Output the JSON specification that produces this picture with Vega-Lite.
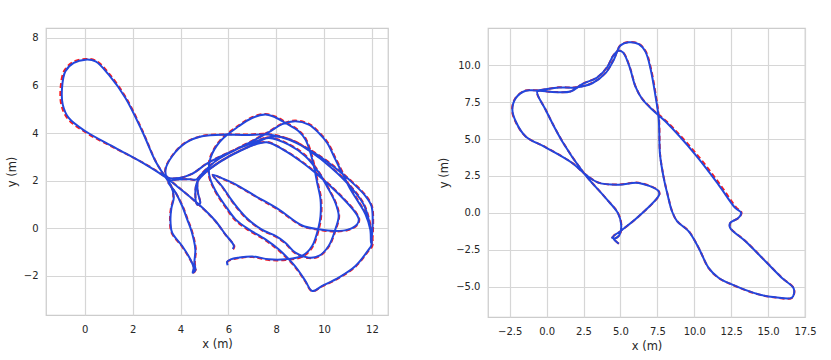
{
 "$schema": "https://vega.github.io/schema/vega-lite/v6.json",
 "padding": {"left": 5, "top": 27, "right": 5, "bottom": 5},
 "background": "white",
 "spacing": 49,
 "datasets": {
  "left": [
   {"t":1,"x":6.18,"y":-0.86,"gx":6.2,"gy":-0.88},
   {"t":2,"x":6.23,"y":-0.74,"gx":6.25,"gy":-0.75},
   {"t":3,"x":5.85,"y":-0.22,"gx":5.86,"gy":-0.24},
   {"t":4,"x":5.46,"y":0.31,"gx":5.47,"gy":0.29},
   {"t":5,"x":4.76,"y":1.01,"gx":4.77,"gy":0.99},
   {"t":6,"x":3.93,"y":1.71,"gx":3.93,"gy":1.72},
   {"t":7,"x":3.37,"y":2.15,"gx":3.36,"gy":2.17},
   {"t":8,"x":2.53,"y":2.69,"gx":2.52,"gy":2.71},
   {"t":9,"x":1.28,"y":3.38,"gx":1.26,"gy":3.37},
   {"t":10,"x":0.03,"y":4.08,"gx":0.01,"gy":4.05},
   {"t":11,"x":-0.67,"y":4.64,"gx":-0.72,"gy":4.62},
   {"t":12,"x":-0.92,"y":5.2,"gx":-0.98,"gy":5.2},
   {"t":13,"x":-0.95,"y":5.9,"gx":-1.01,"gy":5.9},
   {"t":14,"x":-0.81,"y":6.6,"gx":-0.86,"gy":6.62},
   {"t":15,"x":-0.46,"y":6.95,"gx":-0.49,"gy":6.99},
   {"t":16,"x":0.03,"y":7.09,"gx":0.04,"gy":7.12},
   {"t":17,"x":0.45,"y":7.02,"gx":0.48,"gy":7.04},
   {"t":18,"x":1.0,"y":6.46,"gx":1.04,"gy":6.47},
   {"t":19,"x":1.7,"y":5.48,"gx":1.73,"gy":5.48},
   {"t":20,"x":2.4,"y":4.08,"gx":2.42,"gy":4.08},
   {"t":21,"x":2.95,"y":2.83,"gx":2.96,"gy":2.83},
   {"t":22,"x":3.3,"y":2.25,"gx":3.31,"gy":2.25},
   {"t":23,"x":3.6,"y":1.8,"gx":3.61,"gy":1.8},
   {"t":24,"x":3.72,"y":1.3,"gx":3.7,"gy":1.3},
   {"t":25,"x":3.62,"y":0.85,"gx":3.6,"gy":0.85},
   {"t":26,"x":3.58,"y":0.38,"gx":3.56,"gy":0.38},
   {"t":27,"x":3.65,"y":-0.18,"gx":3.63,"gy":-0.19},
   {"t":28,"x":4.07,"y":-0.74,"gx":4.06,"gy":-0.76},
   {"t":29,"x":4.41,"y":-1.3,"gx":4.41,"gy":-1.32},
   {"t":30,"x":4.55,"y":-1.65,"gx":4.56,"gy":-1.66},
   {"t":31,"x":4.51,"y":-1.86,"gx":4.52,"gy":-1.87},
   {"t":32,"x":4.62,"y":-1.76,"gx":4.63,"gy":-1.76},
   {"t":33,"x":4.58,"y":-1.45,"gx":4.6,"gy":-1.45},
   {"t":34,"x":4.62,"y":-0.88,"gx":4.64,"gy":-0.88},
   {"t":35,"x":4.48,"y":-0.18,"gx":4.5,"gy":-0.18},
   {"t":36,"x":4.28,"y":0.38,"gx":4.3,"gy":0.38},
   {"t":37,"x":4.07,"y":0.94,"gx":4.09,"gy":0.94},
   {"t":38,"x":3.8,"y":1.5,"gx":3.8,"gy":1.5},
   {"t":39,"x":3.5,"y":1.95,"gx":3.5,"gy":1.95},
   {"t":40,"x":3.85,"y":2.05,"gx":3.85,"gy":2.05},
   {"t":41,"x":4.4,"y":2.06,"gx":4.4,"gy":2.06},
   {"t":42,"x":4.65,"y":2.05,"gx":4.65,"gy":2.05},
   {"t":43,"x":4.95,"y":2.35,"gx":4.95,"gy":2.37},
   {"t":44,"x":5.5,"y":2.85,"gx":5.5,"gy":2.87},
   {"t":45,"x":6.3,"y":3.3,"gx":6.3,"gy":3.32},
   {"t":46,"x":7.1,"y":3.72,"gx":7.1,"gy":3.74},
   {"t":47,"x":7.75,"y":4.08,"gx":7.75,"gy":4.1},
   {"t":48,"x":8.25,"y":4.38,"gx":8.25,"gy":4.4},
   {"t":49,"x":8.8,"y":4.5,"gx":8.8,"gy":4.53},
   {"t":50,"x":9.36,"y":4.36,"gx":9.38,"gy":4.38},
   {"t":51,"x":9.78,"y":4.01,"gx":9.8,"gy":4.03},
   {"t":52,"x":10.13,"y":3.59,"gx":10.16,"gy":3.6},
   {"t":53,"x":10.47,"y":2.9,"gx":10.5,"gy":2.91},
   {"t":54,"x":10.75,"y":2.34,"gx":10.78,"gy":2.35},
   {"t":55,"x":11.1,"y":1.64,"gx":11.13,"gy":1.65},
   {"t":56,"x":11.45,"y":1.08,"gx":11.48,"gy":1.08},
   {"t":57,"x":11.73,"y":0.59,"gx":11.76,"gy":0.59},
   {"t":58,"x":11.93,"y":-0.05,"gx":11.96,"gy":-0.05},
   {"t":59,"x":11.96,"y":-0.62,"gx":12.0,"gy":-0.66},
   {"t":60,"x":12.03,"y":0.25,"gx":12.05,"gy":0.25},
   {"t":61,"x":11.98,"y":0.94,"gx":12.0,"gy":0.94},
   {"t":62,"x":11.73,"y":1.36,"gx":11.75,"gy":1.37},
   {"t":63,"x":11.03,"y":2.06,"gx":11.05,"gy":2.07},
   {"t":64,"x":10.19,"y":2.76,"gx":10.21,"gy":2.77},
   {"t":65,"x":9.36,"y":3.31,"gx":9.37,"gy":3.33},
   {"t":66,"x":8.52,"y":3.73,"gx":8.53,"gy":3.75},
   {"t":67,"x":7.69,"y":3.94,"gx":7.69,"gy":3.96},
   {"t":68,"x":6.71,"y":3.92,"gx":6.71,"gy":3.94},
   {"t":69,"x":5.88,"y":3.94,"gx":5.88,"gy":3.95},
   {"t":70,"x":4.9,"y":3.87,"gx":4.9,"gy":3.88},
   {"t":71,"x":4.21,"y":3.59,"gx":4.2,"gy":3.6},
   {"t":72,"x":3.65,"y":3.03,"gx":3.64,"gy":3.04},
   {"t":73,"x":3.37,"y":2.45,"gx":3.36,"gy":2.45},
   {"t":74,"x":3.45,"y":2.15,"gx":3.45,"gy":2.15},
   {"t":75,"x":3.95,"y":2.12,"gx":3.95,"gy":2.12},
   {"t":76,"x":4.5,"y":2.3,"gx":4.5,"gy":2.3},
   {"t":77,"x":5.1,"y":2.72,"gx":5.1,"gy":2.73},
   {"t":78,"x":5.88,"y":3.12,"gx":5.88,"gy":3.13},
   {"t":79,"x":6.99,"y":3.58,"gx":6.99,"gy":3.6},
   {"t":80,"x":7.69,"y":3.8,"gx":7.69,"gy":3.82},
   {"t":81,"x":8.52,"y":3.52,"gx":8.53,"gy":3.54},
   {"t":82,"x":9.22,"y":3.03,"gx":9.24,"gy":3.05},
   {"t":83,"x":9.78,"y":2.34,"gx":9.8,"gy":2.35},
   {"t":84,"x":10.19,"y":1.64,"gx":10.21,"gy":1.64},
   {"t":85,"x":10.47,"y":1.08,"gx":10.49,"gy":1.08},
   {"t":86,"x":10.61,"y":0.52,"gx":10.63,"gy":0.52},
   {"t":87,"x":10.47,"y":-0.04,"gx":10.49,"gy":-0.05},
   {"t":88,"x":10.19,"y":-0.74,"gx":10.2,"gy":-0.76},
   {"t":89,"x":9.78,"y":-1.16,"gx":9.78,"gy":-1.18},
   {"t":90,"x":9.36,"y":-1.23,"gx":9.36,"gy":-1.25},
   {"t":91,"x":8.8,"y":-1.02,"gx":8.79,"gy":-1.04},
   {"t":92,"x":8.38,"y":-0.6,"gx":8.37,"gy":-0.62},
   {"t":93,"x":7.97,"y":-0.32,"gx":7.96,"gy":-0.34},
   {"t":94,"x":7.4,"y":-0.05,"gx":7.39,"gy":-0.07},
   {"t":95,"x":6.75,"y":0.45,"gx":6.74,"gy":0.43},
   {"t":96,"x":6.2,"y":1.1,"gx":6.19,"gy":1.08},
   {"t":97,"x":5.75,"y":1.75,"gx":5.74,"gy":1.74},
   {"t":98,"x":5.35,"y":2.25,"gx":5.34,"gy":2.25},
   {"t":99,"x":5.8,"y":2.08,"gx":5.8,"gy":2.06},
   {"t":100,"x":6.3,"y":1.85,"gx":6.3,"gy":1.83},
   {"t":101,"x":7.13,"y":1.36,"gx":7.13,"gy":1.34},
   {"t":102,"x":8.1,"y":0.8,"gx":8.1,"gy":0.77},
   {"t":103,"x":9.08,"y":0.12,"gx":9.08,"gy":0.1},
   {"t":104,"x":9.78,"y":-0.04,"gx":9.78,"gy":-0.06},
   {"t":105,"x":10.47,"y":-0.11,"gx":10.47,"gy":-0.13},
   {"t":106,"x":11.03,"y":-0.04,"gx":11.04,"gy":-0.06},
   {"t":107,"x":11.38,"y":0.17,"gx":11.4,"gy":0.16},
   {"t":108,"x":11.45,"y":0.38,"gx":11.47,"gy":0.38},
   {"t":109,"x":11.31,"y":0.66,"gx":11.33,"gy":0.67},
   {"t":110,"x":10.65,"y":1.4,"gx":10.67,"gy":1.41},
   {"t":111,"x":9.85,"y":2.15,"gx":9.87,"gy":2.16},
   {"t":112,"x":9.05,"y":2.8,"gx":9.07,"gy":2.81},
   {"t":113,"x":8.3,"y":3.3,"gx":8.31,"gy":3.31},
   {"t":114,"x":7.6,"y":3.62,"gx":7.6,"gy":3.63},
   {"t":115,"x":6.8,"y":3.4,"gx":6.8,"gy":3.41},
   {"t":116,"x":6.0,"y":3.0,"gx":6.0,"gy":3.01},
   {"t":117,"x":5.3,"y":2.55,"gx":5.3,"gy":2.56},
   {"t":118,"x":4.75,"y":2.1,"gx":4.75,"gy":2.1},
   {"t":119,"x":4.72,"y":1.55,"gx":4.72,"gy":1.55},
   {"t":120,"x":4.82,"y":1.05,"gx":4.82,"gy":1.05},
   {"t":121,"x":4.7,"y":1.0,"gx":4.7,"gy":1.0},
   {"t":122,"x":4.62,"y":1.4,"gx":4.62,"gy":1.4},
   {"t":123,"x":4.7,"y":1.95,"gx":4.7,"gy":1.95},
   {"t":124,"x":5.1,"y":2.4,"gx":5.1,"gy":2.41},
   {"t":125,"x":5.9,"y":2.95,"gx":5.9,"gy":2.96},
   {"t":126,"x":6.9,"y":3.45,"gx":6.9,"gy":3.46},
   {"t":127,"x":7.8,"y":3.85,"gx":7.8,"gy":3.86},
   {"t":128,"x":8.6,"y":3.72,"gx":8.61,"gy":3.73},
   {"t":129,"x":9.4,"y":3.25,"gx":9.42,"gy":3.26},
   {"t":130,"x":10.3,"y":2.55,"gx":10.32,"gy":2.56},
   {"t":131,"x":11.1,"y":1.75,"gx":11.12,"gy":1.76},
   {"t":132,"x":11.7,"y":0.9,"gx":11.72,"gy":0.9},
   {"t":133,"x":11.98,"y":-0.7,"gx":12.02,"gy":-0.72},
   {"t":134,"x":11.87,"y":-0.88,"gx":11.89,"gy":-0.9},
   {"t":135,"x":11.31,"y":-1.58,"gx":11.32,"gy":-1.6},
   {"t":136,"x":10.61,"y":-2.07,"gx":10.61,"gy":-2.09},
   {"t":137,"x":9.92,"y":-2.42,"gx":9.92,"gy":-2.44},
   {"t":138,"x":9.5,"y":-2.63,"gx":9.5,"gy":-2.64},
   {"t":139,"x":9.22,"y":-2.21,"gx":9.2,"gy":-2.21},
   {"t":140,"x":8.94,"y":-1.79,"gx":8.92,"gy":-1.8},
   {"t":141,"x":8.66,"y":-1.44,"gx":8.64,"gy":-1.46},
   {"t":142,"x":8.1,"y":-0.88,"gx":8.08,"gy":-0.91},
   {"t":143,"x":7.55,"y":-0.46,"gx":7.53,"gy":-0.49},
   {"t":144,"x":6.85,"y":-0.04,"gx":6.83,"gy":-0.07},
   {"t":145,"x":6.3,"y":0.38,"gx":6.28,"gy":0.35},
   {"t":146,"x":5.88,"y":0.94,"gx":5.86,"gy":0.92},
   {"t":147,"x":5.45,"y":1.6,"gx":5.43,"gy":1.59},
   {"t":148,"x":5.2,"y":2.25,"gx":5.18,"gy":2.25},
   {"t":149,"x":5.25,"y":2.95,"gx":5.23,"gy":2.96},
   {"t":150,"x":5.65,"y":3.65,"gx":5.63,"gy":3.67},
   {"t":151,"x":6.43,"y":4.29,"gx":6.42,"gy":4.32},
   {"t":152,"x":6.99,"y":4.64,"gx":6.99,"gy":4.67},
   {"t":153,"x":7.55,"y":4.78,"gx":7.55,"gy":4.81},
   {"t":154,"x":7.97,"y":4.66,"gx":7.98,"gy":4.69},
   {"t":155,"x":8.38,"y":4.43,"gx":8.4,"gy":4.46},
   {"t":156,"x":8.94,"y":4.08,"gx":8.96,"gy":4.1},
   {"t":157,"x":9.22,"y":3.73,"gx":9.25,"gy":3.74},
   {"t":158,"x":9.43,"y":3.17,"gx":9.46,"gy":3.17},
   {"t":159,"x":9.57,"y":2.62,"gx":9.6,"gy":2.62},
   {"t":160,"x":9.71,"y":1.92,"gx":9.74,"gy":1.92},
   {"t":161,"x":9.85,"y":1.22,"gx":9.88,"gy":1.22},
   {"t":162,"x":9.85,"y":0.52,"gx":9.88,"gy":0.52},
   {"t":163,"x":9.78,"y":0.1,"gx":9.81,"gy":0.09},
   {"t":164,"x":9.5,"y":-0.74,"gx":9.53,"gy":-0.76},
   {"t":165,"x":9.08,"y":-1.16,"gx":9.09,"gy":-1.19},
   {"t":166,"x":8.38,"y":-1.3,"gx":8.38,"gy":-1.33},
   {"t":167,"x":7.69,"y":-1.3,"gx":7.69,"gy":-1.33},
   {"t":168,"x":7.0,"y":-1.18,"gx":7.0,"gy":-1.2},
   {"t":169,"x":6.43,"y":-1.23,"gx":6.43,"gy":-1.25},
   {"t":170,"x":6.1,"y":-1.3,"gx":6.1,"gy":-1.32},
   {"t":171,"x":5.95,"y":-1.4,"gx":5.95,"gy":-1.42},
   {"t":172,"x":5.97,"y":-1.55,"gx":5.98,"gy":-1.57}
  ],
  "right": [
   {"t":1,"x":4.89,"y":-2.09,"gx":4.89,"gy":-2.09},
   {"t":2,"x":4.5,"y":-1.64,"gx":4.5,"gy":-1.64},
   {"t":3,"x":5.0,"y":-1.24,"gx":5.0,"gy":-1.24},
   {"t":4,"x":6.24,"y":-0.23,"gx":6.25,"gy":-0.23},
   {"t":5,"x":7.63,"y":1.25,"gx":7.64,"gy":1.25},
   {"t":6,"x":7.55,"y":1.51,"gx":7.56,"gy":1.52},
   {"t":7,"x":6.24,"y":2.03,"gx":6.24,"gy":2.04},
   {"t":8,"x":4.89,"y":1.91,"gx":4.89,"gy":1.92},
   {"t":9,"x":3.54,"y":2.03,"gx":3.54,"gy":2.04},
   {"t":10,"x":2.64,"y":2.59,"gx":2.64,"gy":2.6},
   {"t":11,"x":1.73,"y":3.38,"gx":1.73,"gy":3.39},
   {"t":12,"x":-0.07,"y":4.44,"gx":-0.08,"gy":4.45},
   {"t":13,"x":-1.42,"y":5.18,"gx":-1.43,"gy":5.19},
   {"t":14,"x":-2.09,"y":6.19,"gx":-2.11,"gy":6.19},
   {"t":15,"x":-2.32,"y":6.98,"gx":-2.34,"gy":6.98},
   {"t":16,"x":-2.09,"y":7.77,"gx":-2.11,"gy":7.78},
   {"t":17,"x":-1.42,"y":8.27,"gx":-1.42,"gy":8.29},
   {"t":18,"x":-0.63,"y":8.29,"gx":-0.63,"gy":8.3},
   {"t":19,"x":0.83,"y":8.49,"gx":0.83,"gy":8.5},
   {"t":20,"x":1.96,"y":8.49,"gx":1.96,"gy":8.5},
   {"t":21,"x":3.09,"y":8.78,"gx":3.09,"gy":8.8},
   {"t":22,"x":3.99,"y":9.46,"gx":3.98,"gy":9.48},
   {"t":23,"x":4.55,"y":10.36,"gx":4.54,"gy":10.38},
   {"t":24,"x":5.0,"y":11.33,"gx":5.0,"gy":11.35},
   {"t":25,"x":5.56,"y":11.55,"gx":5.57,"gy":11.57},
   {"t":26,"x":6.24,"y":11.42,"gx":6.26,"gy":11.44},
   {"t":27,"x":6.69,"y":10.92,"gx":6.72,"gy":10.93},
   {"t":28,"x":7.03,"y":9.8,"gx":7.06,"gy":9.8},
   {"t":29,"x":7.36,"y":8.0,"gx":7.39,"gy":8.0},
   {"t":30,"x":7.59,"y":6.42,"gx":7.61,"gy":6.42},
   {"t":31,"x":7.68,"y":3.94,"gx":7.69,"gy":3.94},
   {"t":32,"x":7.93,"y":2.37,"gx":7.94,"gy":2.37},
   {"t":33,"x":8.2,"y":1.2,"gx":8.21,"gy":1.2},
   {"t":34,"x":8.49,"y":0.11,"gx":8.5,"gy":0.11},
   {"t":35,"x":8.83,"y":-0.56,"gx":8.84,"gy":-0.56},
   {"t":36,"x":9.61,"y":-1.24,"gx":9.63,"gy":-1.24},
   {"t":37,"x":10.29,"y":-2.36,"gx":10.3,"gy":-2.37},
   {"t":38,"x":10.97,"y":-3.72,"gx":10.97,"gy":-3.73},
   {"t":39,"x":11.64,"y":-4.39,"gx":11.64,"gy":-4.4},
   {"t":40,"x":12.54,"y":-4.84,"gx":12.54,"gy":-4.85},
   {"t":41,"x":14.34,"y":-5.51,"gx":14.34,"gy":-5.52},
   {"t":42,"x":15.5,"y":-5.72,"gx":15.5,"gy":-5.73},
   {"t":43,"x":16.59,"y":-5.76,"gx":16.6,"gy":-5.77},
   {"t":44,"x":16.76,"y":-5.45,"gx":16.77,"gy":-5.45},
   {"t":45,"x":16.71,"y":-5.07,"gx":16.72,"gy":-5.07},
   {"t":46,"x":15.92,"y":-4.39,"gx":15.93,"gy":-4.38},
   {"t":47,"x":14.8,"y":-3.26,"gx":14.81,"gy":-3.25},
   {"t":48,"x":13.45,"y":-1.91,"gx":13.46,"gy":-1.9},
   {"t":49,"x":12.43,"y":-1.01,"gx":12.44,"gy":-1.0},
   {"t":50,"x":12.43,"y":-0.68,"gx":12.45,"gy":-0.67},
   {"t":51,"x":12.99,"y":-0.34,"gx":13.01,"gy":-0.33},
   {"t":52,"x":13.18,"y":0.0,"gx":13.2,"gy":0.02},
   {"t":53,"x":12.77,"y":0.34,"gx":12.83,"gy":0.38},
   {"t":54,"x":11.64,"y":1.92,"gx":11.72,"gy":1.96},
   {"t":55,"x":10.07,"y":3.95,"gx":10.15,"gy":3.99},
   {"t":56,"x":8.04,"y":6.2,"gx":8.09,"gy":6.23},
   {"t":57,"x":7.2,"y":6.95,"gx":7.22,"gy":6.97},
   {"t":58,"x":6.46,"y":7.73,"gx":6.47,"gy":7.74},
   {"t":59,"x":6.01,"y":8.56,"gx":6.02,"gy":8.57},
   {"t":60,"x":5.61,"y":9.91,"gx":5.62,"gy":9.92},
   {"t":61,"x":5.16,"y":10.88,"gx":5.17,"gy":10.89},
   {"t":62,"x":4.84,"y":10.97,"gx":4.84,"gy":10.98},
   {"t":63,"x":4.5,"y":10.63,"gx":4.5,"gy":10.64},
   {"t":64,"x":4.1,"y":9.86,"gx":4.1,"gy":9.87},
   {"t":65,"x":3.42,"y":9.17,"gx":3.42,"gy":9.18},
   {"t":66,"x":2.41,"y":8.72,"gx":2.41,"gy":8.73},
   {"t":67,"x":1.62,"y":8.22,"gx":1.62,"gy":8.23},
   {"t":68,"x":0.38,"y":8.18,"gx":0.38,"gy":8.19},
   {"t":69,"x":-0.63,"y":8.22,"gx":-0.63,"gy":8.23},
   {"t":70,"x":-0.07,"y":6.98,"gx":-0.06,"gy":6.98},
   {"t":71,"x":1.06,"y":4.84,"gx":1.07,"gy":4.84},
   {"t":72,"x":2.52,"y":2.7,"gx":2.53,"gy":2.7},
   {"t":73,"x":3.99,"y":1.01,"gx":4.0,"gy":1.01},
   {"t":74,"x":4.82,"y":0.0,"gx":4.83,"gy":0.0},
   {"t":75,"x":5.05,"y":-0.79,"gx":5.06,"gy":-0.79},
   {"t":76,"x":4.95,"y":-1.46,"gx":4.96,"gy":-1.46},
   {"t":77,"x":4.62,"y":-1.73,"gx":4.62,"gy":-1.73},
   {"t":78,"x":4.39,"y":-1.64,"gx":4.39,"gy":-1.64}
  ]
 },
 "hconcat": [
  {
   "width": 342,
   "height": 287,
   "data": {"name": "left"},
   "layer": [
    {
     "mark": {"type": "line", "interpolate": "catmull-rom", "color": "#ff1a1a", "strokeWidth": 2, "strokeDash": [5, 3]},
     "encoding": {
      "x": {"field": "gx", "type": "quantitative", "scale": {"domain": [-1.62, 12.67], "nice": false, "zero": false}, "axis": {"title": "x (m)", "values": [0, 2, 4, 6, 8, 10, 12]}},
      "y": {"field": "gy", "type": "quantitative", "scale": {"domain": [-3.64, 8.42], "nice": false, "zero": false}, "axis": {"title": "y (m)", "values": [-2, 0, 2, 4, 6, 8]}},
      "order": {"field": "t", "type": "quantitative"}
     }
    },
    {
     "mark": {"type": "line", "interpolate": "catmull-rom", "color": "#2346dc", "strokeWidth": 2},
     "encoding": {
      "x": {"field": "x", "type": "quantitative", "scale": {"domain": [-1.62, 12.67], "nice": false, "zero": false}, "axis": {"title": "x (m)", "values": [0, 2, 4, 6, 8, 10, 12]}},
      "y": {"field": "y", "type": "quantitative", "scale": {"domain": [-3.64, 8.42], "nice": false, "zero": false}, "axis": {"title": "y (m)", "values": [-2, 0, 2, 4, 6, 8]}},
      "order": {"field": "t", "type": "quantitative"}
     }
    }
   ]
  },
  {
   "width": 317,
   "height": 289,
   "data": {"name": "right"},
   "layer": [
    {
     "mark": {"type": "line", "interpolate": "catmull-rom", "color": "#ff1a1a", "strokeWidth": 2, "strokeDash": [5, 3]},
     "encoding": {
      "x": {"field": "gx", "type": "quantitative", "scale": {"domain": [-3.97, 17.5], "nice": false, "zero": false}, "axis": {"title": "x (m)", "format": ".1f", "values": [-2.5, 0, 2.5, 5, 7.5, 10, 12.5, 15, 17.5]}},
      "y": {"field": "gy", "type": "quantitative", "scale": {"domain": [-7.05, 12.52], "nice": false, "zero": false}, "axis": {"title": "y (m)", "format": ".1f", "values": [-5, -2.5, 0, 2.5, 5, 7.5, 10]}},
      "order": {"field": "t", "type": "quantitative"}
     }
    },
    {
     "mark": {"type": "line", "interpolate": "catmull-rom", "color": "#2346dc", "strokeWidth": 2},
     "encoding": {
      "x": {"field": "x", "type": "quantitative", "scale": {"domain": [-3.97, 17.5], "nice": false, "zero": false}, "axis": {"title": "x (m)", "format": ".1f", "values": [-2.5, 0, 2.5, 5, 7.5, 10, 12.5, 15, 17.5]}},
      "y": {"field": "y", "type": "quantitative", "scale": {"domain": [-7.05, 12.52], "nice": false, "zero": false}, "axis": {"title": "y (m)", "format": ".1f", "values": [-5, -2.5, 0, 2.5, 5, 7.5, 10]}},
      "order": {"field": "t", "type": "quantitative"}
     }
    }
   ]
  }
 ],
 "config": {
  "font": "DejaVu Sans",
  "view": {"stroke": "#cccccc", "strokeWidth": 1.25},
  "axis": {
   "domain": false,
   "ticks": false,
   "grid": true,
   "gridColor": "#d6d6d6",
   "gridWidth": 1.2,
   "labelFont": "DejaVu Sans",
   "labelFontSize": 10,
   "labelColor": "#262626",
   "labelPadding": 8,
   "labelFlush": false,
   "labelOverlap": false,
   "labelBound": false,
   "titleFont": "DejaVu Sans",
   "titleFontSize": 11.5,
   "titleFontWeight": "normal",
   "titleColor": "#262626",
   "titlePadding": 6
  },
  "axisX": {"labelPadding": 9, "titlePadding": 4}
 }
}
